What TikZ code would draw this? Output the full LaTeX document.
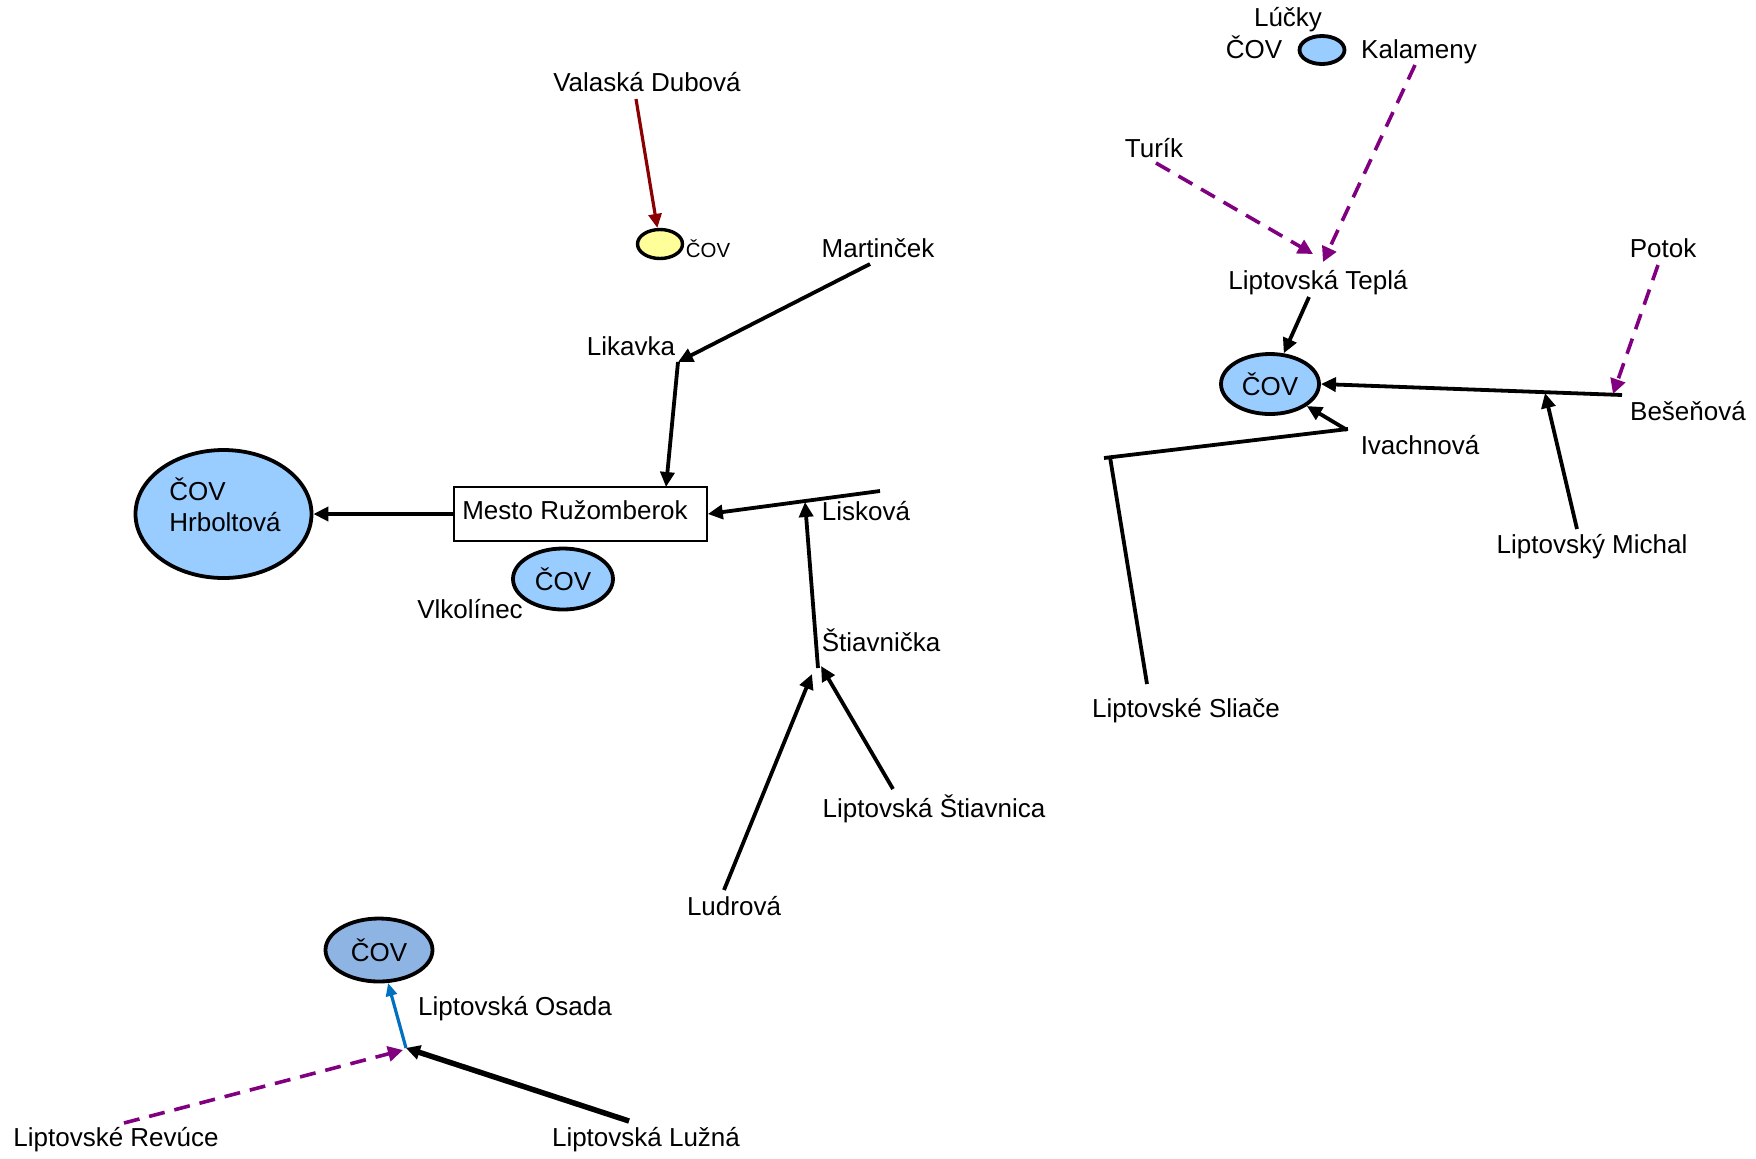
\documentclass[tikz,border=0pt]{standalone}
\usepackage{fontspec}
\setmainfont{Liberation Sans}
\usetikzlibrary{shapes.geometric,arrows.meta}
\definecolor{lblue}{HTML}{99CCFF}
\definecolor{dblue}{HTML}{8DB4E2}
\definecolor{lyellow}{HTML}{FFFF99}
\definecolor{dred}{HTML}{8B0000}
\definecolor{dpurple}{HTML}{800080}
\definecolor{oblue}{HTML}{0070C0}
\begin{document}
\begin{tikzpicture}[x=0.5pt,y=-0.5pt,
  lbl/.style={inner sep=0pt, font=\fontsize{13}{15.5}\selectfont, text height=9.5pt, text depth=2.5pt, yshift=-1.1pt},
  cov/.style={ellipse, draw=black, line width=1.9pt, inner sep=0pt, font=\fontsize{13}{15.5}\selectfont},
  flow/.style={draw=black, line width=1.9pt, -{Triangle[length=7.5pt,width=7pt]}},
  plain/.style={draw=black, line width=1.9pt},
  dflow/.style={draw=dpurple, line width=1.8pt, dash pattern=on 8pt off 5pt, -{Triangle[length=7.5pt,width=7.5pt]}},
  rflow/.style={draw=dred, line width=1.6pt, -{Triangle[length=7pt,width=6.5pt]}},
  bflow/.style={draw=oblue, line width=1.6pt, -{Triangle[length=6.5pt,width=5.5pt]}},
  tflow/.style={draw=black, line width=2.7pt, -{Triangle[length=7pt,width=7pt]}}
]
\useasboundingbox (0,0) rectangle (1756,1158);

% ---- upper right group ----
\node[lbl] (lucky) at (1288,17) {Lúčky};
\node[lbl] (lcovt) at (1254,49) {ČOV};
\node[cov, fill=lblue, minimum width=22.5pt, minimum height=14pt] (lcov) at (1322,50) {};
\node[lbl] (kal) at (1419,49) {Kalameny};
\node[lbl] (turik) at (1154,148) {Turík};
\node[lbl] (tepla) at (1318,280) {Liptovská Teplá};
\node[cov, fill=lblue, minimum width=49pt, minimum height=30pt] (tcov) at (1270,384) {ČOV};
\node[lbl] (potok) at (1663,248) {Potok};
\node[lbl] (bes) at (1688,411) {Bešeňová};
\node[lbl] (iva) at (1420,445) {Ivachnová};
\node[lbl] (mich) at (1592,544) {Liptovský Michal};
\node[lbl] (sliace) at (1186,708) {Liptovské Sliače};

\coordinate (tu1) at (1156,163);
\coordinate (tu2) at (1313,254);
\coordinate (ka1) at (1415,65);
\coordinate (ka2) at (1323,262);
\coordinate (tp1) at (1309,297);
\coordinate (po1) at (1658,265);
\coordinate (po2) at (1613,394);
\coordinate (be1) at (1622,395);
\coordinate (mi1) at (1577,529);
\coordinate (mi2) at (1545,393);
\coordinate (iv1) at (1347,430);
\coordinate (sl0) at (1348,429);
\coordinate (sl1) at (1104,458);
\coordinate (sl2) at (1110,457);
\coordinate (sl3) at (1147,684);

\draw[dflow] (tu1) -- (tu2);
\draw[dflow] (ka1) -- (ka2);
\draw[flow] (tp1) -- (tcov);
\draw[dflow] (po1) -- (po2);
\draw[flow] (be1) -- (tcov.east);
\draw[flow] (mi1) -- (mi2);
\draw[flow] (iv1) -- (tcov);
\draw[plain] (sl0) -- (sl1);
\draw[plain] (sl2) -- (sl3);

% ---- centre group ----
\node[lbl] (vdub) at (647,82) {Valaská Dubová};
\node[cov, fill=lyellow, line width=1.7pt, minimum width=22.5pt, minimum height=14.5pt] (ycov) at (660,244) {};
\node[inner sep=0pt, font=\fontsize{10.2}{12}\selectfont] (ycovt) at (708,249) {ČOV};
\node[lbl] (mart) at (878,248) {Martinček};
\node[lbl] (lik) at (631,346) {Likavka};
\node[draw=black, line width=0.8pt, minimum width=126.5pt, minimum height=27pt, inner sep=0pt] (mesto) at (580.5,514) {};
\node[lbl] (mestot) at (575,510) {Mesto Ružomberok};
\node[cov, fill=lblue, minimum width=88pt, minimum height=64pt] (hrb) at (223.5,514) {};
\node[inner sep=0pt, align=left, font=\fontsize{13}{15.5}\selectfont] (hrbt) at (225,505) {ČOV\\Hrboltová};
\node[cov, fill=lblue, minimum width=50pt, minimum height=30.5pt] (vcov) at (563,579) {ČOV};
\node[lbl] (vlk) at (470,609) {Vlkolínec};
\node[lbl] (lisk) at (866,511) {Lisková};
\node[lbl] (stv) at (881,642) {Štiavnička};
\node[lbl] (lst) at (934,808) {Liptovská Štiavnica};
\node[lbl] (lud) at (734,906) {Ludrová};

\coordinate (vd1) at (636,99);
\coordinate (mt1) at (870,264);
\coordinate (likj) at (678,362);
\coordinate (mtop) at (666,487);
\coordinate (lk1) at (880,491);
\coordinate (stj) at (805,502);
\coordinate (st1) at (818,668);
\coordinate (ld1) at (724,890);
\coordinate (ld2) at (812,674);
\coordinate (ls1) at (893,789);
\coordinate (ls2) at (821,666);

\draw[rflow] (vd1) -- (ycov);
\draw[flow] (mt1) -- (likj);
\draw[flow] (likj) -- (mtop);
\draw[flow] (mesto.west) -- (hrb.east);
\draw[flow] (lk1) -- (mesto.east);
\draw[flow] (st1) -- (stj);
\draw[flow] (ld1) -- (ld2);
\draw[flow] (ls1) -- (ls2);

% ---- lower left group ----
\node[cov, fill=dblue, minimum width=53.5pt, minimum height=31.5pt] (ocov) at (379,950) {ČOV};
\node[lbl] (osada) at (515,1006) {Liptovská Osada};
\node[lbl] (rev) at (116,1137) {Liptovské Revúce};
\node[lbl] (luz) at (646,1137) {Liptovská Lužná};

\coordinate (lz1) at (629,1121);
\coordinate (oj) at (406,1048);
\coordinate (rv1) at (124,1123);
\coordinate (rv2) at (403,1050);

\draw[tflow, draw=black!25, shift={(2.5,2.5)}] (lz1) -- (oj);
\draw[tflow] (lz1) -- (oj);
\draw[dflow] (rv1) -- (rv2);
\draw[bflow] (oj) -- (ocov);
\end{tikzpicture}
\end{document}
